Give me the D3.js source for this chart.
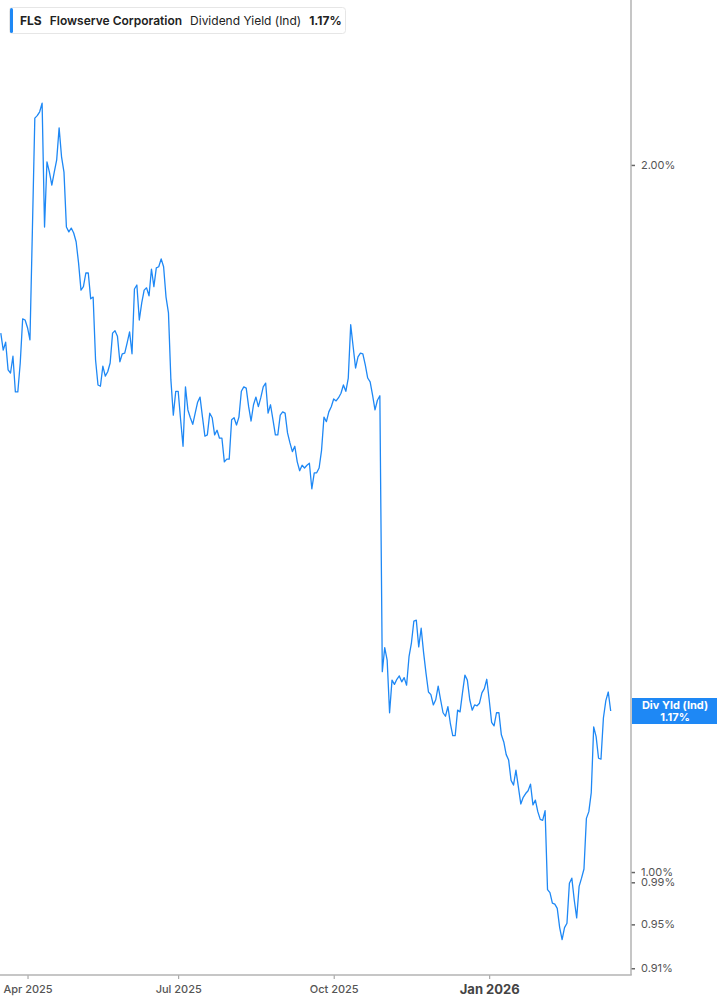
<!DOCTYPE html>
<html>
<head>
<meta charset="utf-8">
<script src="https://cdn.jsdelivr.net/npm/d3@7"></script>
<style>
  body { margin: 0; background: #fff; font-family: Inter, "Noto Sans", sans-serif; }
  svg { display: block; }
</style>
</head>
<body>
<svg id="chart" width="717" height="1005"></svg>
<script>
// FLS dividend yield (ind), % — one value per trading day
const dates = [
  "2025-03-17","2025-03-18","2025-03-19","2025-03-20","2025-03-21","2025-03-24","2025-03-25","2025-03-26","2025-03-27","2025-03-28","2025-03-31",
  "2025-04-01","2025-04-02","2025-04-03","2025-04-04","2025-04-07","2025-04-08","2025-04-09","2025-04-10","2025-04-11","2025-04-14","2025-04-15",
  "2025-04-16","2025-04-17","2025-04-21","2025-04-22","2025-04-23","2025-04-24","2025-04-25","2025-04-28","2025-04-29","2025-04-30",
  "2025-05-01","2025-05-02","2025-05-05","2025-05-06","2025-05-07","2025-05-08","2025-05-09","2025-05-12","2025-05-13","2025-05-14","2025-05-15",
  "2025-05-16","2025-05-19","2025-05-20","2025-05-21","2025-05-22","2025-05-23","2025-05-27","2025-05-28","2025-05-29","2025-05-30",
  "2025-06-02","2025-06-03","2025-06-04","2025-06-05","2025-06-06","2025-06-09","2025-06-10","2025-06-11","2025-06-12","2025-06-13",
  "2025-06-16","2025-06-17","2025-06-18","2025-06-20","2025-06-23","2025-06-24","2025-06-25","2025-06-26","2025-06-27","2025-06-30",
  "2025-07-01","2025-07-02","2025-07-03","2025-07-07","2025-07-08","2025-07-09","2025-07-10","2025-07-11","2025-07-14","2025-07-15","2025-07-16",
  "2025-07-17","2025-07-18","2025-07-21","2025-07-22","2025-07-23","2025-07-24","2025-07-25","2025-07-28","2025-07-29","2025-07-30","2025-07-31",
  "2025-08-01","2025-08-04","2025-08-05","2025-08-06","2025-08-07","2025-08-08","2025-08-11","2025-08-12","2025-08-13","2025-08-14","2025-08-15",
  "2025-08-18","2025-08-19","2025-08-20","2025-08-21","2025-08-22","2025-08-25","2025-08-26","2025-08-27","2025-08-28","2025-08-29",
  "2025-09-02","2025-09-03","2025-09-04","2025-09-05","2025-09-08","2025-09-09","2025-09-10","2025-09-11","2025-09-12","2025-09-15","2025-09-16",
  "2025-09-17","2025-09-18","2025-09-19","2025-09-22","2025-09-23","2025-09-24","2025-09-25","2025-09-26","2025-09-29","2025-09-30",
  "2025-10-01","2025-10-02","2025-10-03","2025-10-06","2025-10-07","2025-10-08","2025-10-09","2025-10-10","2025-10-13","2025-10-14","2025-10-15",
  "2025-10-16","2025-10-17","2025-10-20","2025-10-21","2025-10-22","2025-10-23","2025-10-24","2025-10-27","2025-10-28","2025-10-29","2025-10-30","2025-10-31",
  "2025-11-03","2025-11-04","2025-11-05","2025-11-06","2025-11-07","2025-11-10","2025-11-11","2025-11-12","2025-11-13","2025-11-14",
  "2025-11-17","2025-11-18","2025-11-19","2025-11-20","2025-11-21","2025-11-24","2025-11-25","2025-11-26","2025-11-28",
  "2025-12-01","2025-12-02","2025-12-03","2025-12-04","2025-12-05","2025-12-08","2025-12-09","2025-12-10","2025-12-11","2025-12-12","2025-12-15",
  "2025-12-16","2025-12-17","2025-12-18","2025-12-19","2025-12-22","2025-12-23","2025-12-24","2025-12-26","2025-12-29","2025-12-30","2025-12-31",
  "2026-01-02","2026-01-05","2026-01-06","2026-01-07","2026-01-08","2026-01-09","2026-01-12","2026-01-13","2026-01-14","2026-01-15",
  "2026-01-16","2026-01-20","2026-01-21","2026-01-22","2026-01-23","2026-01-26","2026-01-27","2026-01-28","2026-01-29","2026-01-30",
  "2026-02-02","2026-02-03","2026-02-04","2026-02-05","2026-02-06","2026-02-09","2026-02-10","2026-02-11","2026-02-12","2026-02-13",
  "2026-02-17","2026-02-18","2026-02-19","2026-02-20","2026-02-23","2026-02-24","2026-02-25","2026-02-26","2026-02-27",
  "2026-03-02","2026-03-03","2026-03-04","2026-03-05","2026-03-06","2026-03-09","2026-03-10","2026-03-11","2026-03-12","2026-03-13",
  "2026-03-16","2026-03-17"
];
const yields = [
  1.696,1.668,1.681,1.636,1.631,1.658,1.601,1.601,1.647,1.720,
  1.718,1.705,1.685,1.876,2.094,2.099,2.107,2.125,1.882,2.006,
  1.986,1.961,1.986,2.010,2.074,2.016,1.986,1.882,1.873,1.880,
  1.871,1.855,1.817,1.769,1.775,1.799,1.799,1.754,1.757,1.652,
  1.612,1.610,1.642,1.626,1.633,1.647,1.696,1.700,1.691,1.649,
  1.662,1.663,1.680,1.698,1.662,1.771,1.778,1.718,1.747,1.769,
  1.773,1.759,1.806,1.775,1.808,1.810,1.824,1.810,1.757,1.730,
  1.620,1.565,1.602,1.602,1.558,1.518,1.609,1.573,1.561,1.551,
  1.568,1.585,1.593,1.562,1.533,1.535,1.568,1.561,1.535,1.542,
  1.530,1.530,1.495,1.499,1.499,1.558,1.561,1.550,1.562,1.602,
  1.609,1.607,1.578,1.556,1.581,1.593,1.578,1.592,1.609,1.615,
  1.568,1.581,1.558,1.535,1.535,1.565,1.570,1.568,1.538,
  1.523,1.510,1.518,1.495,1.482,1.490,1.486,1.490,1.493,1.456,
  1.479,1.479,1.486,1.512,1.562,1.555,1.570,1.578,1.590,1.587,
  1.592,1.599,1.612,1.602,1.623,1.710,1.674,1.639,1.657,1.663,
  1.662,1.644,1.623,1.617,1.596,1.573,1.588,1.595,1.217,1.246,
  1.231,1.169,1.207,1.202,1.208,1.212,1.205,1.210,1.201,1.235,
  1.252,1.279,1.280,1.247,1.270,1.240,1.215,1.193,1.190,1.178,
  1.184,1.200,1.184,1.169,1.165,1.176,1.157,1.143,1.143,1.172,
  1.170,1.192,1.213,1.207,1.184,1.172,1.178,1.177,1.180,1.192,
  1.197,1.208,1.184,1.158,1.154,1.169,1.169,1.144,1.136,1.122,
  1.116,1.094,1.089,1.105,1.087,1.069,1.076,1.080,1.083,1.090,
  1.068,1.073,1.061,1.053,1.052,1.062,0.983,0.980,0.970,0.969,
  0.965,0.947,0.936,0.947,0.951,0.989,0.994,0.973,0.956,
  0.986,0.994,1.003,1.054,1.061,1.081,1.153,1.142,1.118,1.117,
  1.163,1.183,1.193,1.171
];
const yTicks = [0.91, 0.95, 0.99, 1.00, 2.00];
const xTickDates = ["2025-04-01", "2025-07-01", "2025-10-01", "2026-01-02"];
const xTickLabels = ["Apr 2025", "Jul 2025", "Oct 2025", "Jan 2026"];

const ticker = "FLS";
const company = "Flowserve Corporation";
const metric = "Dividend Yield (Ind)";
const tagLabel = "Div Yld (Ind)";

const data = dates.map((d, i) => ({ date: d, value: yields[i] }));
const last = data[data.length - 1];

const W = 717, H = 1005;
const plotRight = 631, plotBottom = 975;
const blue = "#1e88f5";

const svg = d3.select("#chart");

// trading-day axis: every session gets the same width
const x = d3.scalePoint()
  .domain(dates)
  .range([0.8, 610.7]);

const y = d3.scaleLog()
  .domain([0.904, 2.351])
  .range([plotBottom, 0]);

svg.append("defs").append("clipPath").attr("id", "plotClip")
  .append("rect").attr("x", 0).attr("y", 0).attr("width", plotRight).attr("height", plotBottom);

const line = d3.line()
  .x(d => x(d.date))
  .y(d => y(d.value));

svg.append("path")
  .datum(data)
  .attr("clip-path", "url(#plotClip)")
  .attr("fill", "none")
  .attr("stroke", blue)
  .attr("stroke-width", 1.3)
  .attr("stroke-linejoin", "round")
  .attr("d", line);

// right axis
const yAxis = svg.append("g")
  .attr("transform", `translate(${plotRight},0)`)
  .call(d3.axisRight(y).tickValues(yTicks).tickSize(4).tickPadding(6)
    .tickFormat(d => d.toFixed(2) + "%"));
yAxis.select(".domain").remove();
yAxis.selectAll(".tick line").attr("stroke", "#666").attr("stroke-width", 1.5);
yAxis.selectAll(".tick text")
  .attr("fill", "#555")
  .style("font-family", "Inter, sans-serif")
  .style("font-size", "11px");

svg.append("line")
  .attr("x1", plotRight).attr("x2", plotRight)
  .attr("y1", 0).attr("y2", plotBottom)
  .attr("stroke", "#b3b3b3").attr("stroke-width", 1.5);

// bottom axis
const xAxis = svg.append("g")
  .attr("transform", `translate(0,${plotBottom})`)
  .call(d3.axisBottom(x).tickValues(xTickDates).tickSize(4).tickPadding(6)
    .tickFormat((d, i) => xTickLabels[i]));
xAxis.select(".domain").remove();
xAxis.selectAll(".tick line").attr("stroke", "#999");
xAxis.selectAll(".tick text")
  .attr("fill", "#555")
  .style("font-family", "Inter, sans-serif")
  .style("font-size", "11px")
  .style("font-weight", 500);
xAxis.selectAll(".tick text").filter((d, i) => i === xTickLabels.length - 1)
  .attr("fill", "#444")
  .style("font-size", "13px")
  .style("font-weight", 700);

svg.append("line")
  .attr("x1", 0).attr("x2", plotRight + 0.75)
  .attr("y1", plotBottom).attr("y2", plotBottom)
  .attr("stroke", "#b3b3b3").attr("stroke-width", 1.5);

// last value tag
const tagY = y(last.value);
const tag = svg.append("g").attr("transform", `translate(${plotRight + 1},${tagY})`);
tag.append("rect")
  .attr("x", 0).attr("y", -13).attr("width", W - plotRight).attr("height", 26)
  .attr("fill", blue);
tag.append("text")
  .attr("x", (W - plotRight) / 2).attr("y", -2)
  .attr("text-anchor", "middle")
  .attr("fill", "#fff")
  .style("font-size", "11px").style("font-weight", 700)
  .text(tagLabel);
tag.append("text")
  .attr("x", (W - plotRight) / 2).attr("y", 10)
  .attr("text-anchor", "middle")
  .attr("fill", "#fff")
  .style("font-size", "11px").style("font-weight", 700)
  .text(last.value.toFixed(2) + "%");

// legend box
const legend = svg.append("g").attr("transform", "translate(9,7)");
legend.append("rect")
  .attr("x", 0.5).attr("y", 0.5).attr("width", 336).attr("height", 26).attr("rx", 3)
  .attr("fill", "#fff").attr("stroke", "#e6e6e6");
legend.append("rect")
  .attr("x", 1).attr("y", 1).attr("width", 3).attr("height", 25).attr("rx", 1.5)
  .attr("fill", blue);
const lt = legend.append("text").attr("x", 11).attr("y", 18)
  .style("font-size", "12px").attr("fill", "#222");
lt.append("tspan").style("font-weight", 700).text(ticker);
lt.append("tspan").attr("dx", 8).style("font-weight", 600).text(company);
lt.append("tspan").attr("dx", 8).style("font-weight", 400).text(metric);
lt.append("tspan").attr("dx", 8).style("font-weight", 700).text(last.value.toFixed(2) + "%");
</script>
</body>
</html>
